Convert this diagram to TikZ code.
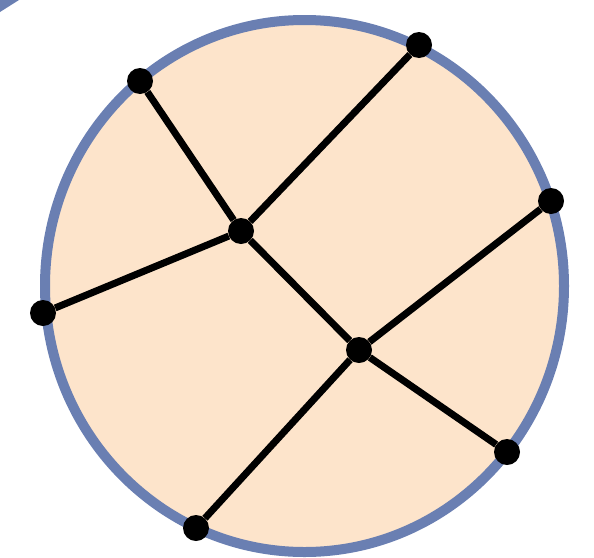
\documentclass[tikz,border=0pt]{standalone}
\usepackage{xcolor}
\usepackage{tikz}
\definecolor{Rim}{HTML}{6A7FB2}
\definecolor{Peach}{HTML}{FDE4CB}
\definecolor{Ink}{HTML}{000000}

\begin{document}
\begin{tikzpicture}[x=1pt,y=-1pt,
  dot/.style={circle,fill=Ink,inner sep=0pt,minimum size=26pt},
  link/.style={draw=Ink,line width=7pt}]
  \useasboundingbox (0,0) rectangle (594,557);
  \fill[Rim] (0,0) -- (19,0) -- (0,12) -- cycle;
  \filldraw[fill=Peach,draw=Rim,line width=10pt] (304.5,286) ellipse [x radius=259.5,y radius=266];
  % rim points and the two inner joints
  \foreach \n/\x/\y in {a/140/81, b/419/45, c/551/201, d/43/313, e/507/452, f/196/528, p/241/231, q/359/350}
    \node[dot] (\n) at (\x,\y) {};
  \foreach \s/\t in {a/p, b/p, d/p, p/q, c/q, e/q, f/q}
    \draw[link] (\s) -- (\t);
\end{tikzpicture}
\end{document}
